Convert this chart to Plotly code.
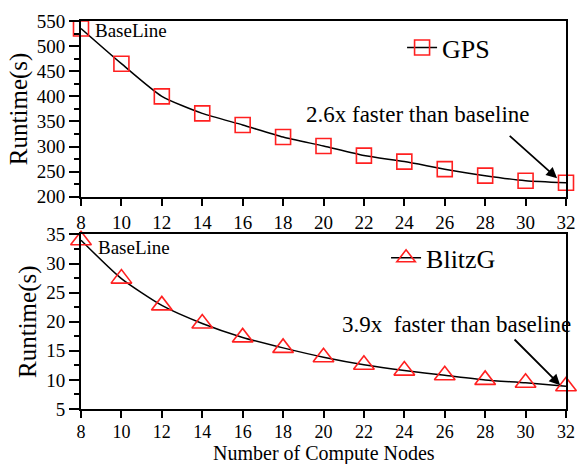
import plotly.graph_objects as go

nodes = [8, 10, 12, 14, 16, 18, 20, 22, 24, 26, 28, 30, 32]
gps_runtime = [535, 465, 400, 366, 343, 319, 301, 282, 270, 255, 242, 232, 228]
blitzg_runtime = [34.0, 27.4, 22.8, 19.7, 17.3, 15.5, 13.9, 12.6, 11.6, 10.8, 10.0, 9.5, 8.9]
x_ticks = list(range(8, 33, 2))
gps_y_ticks = list(range(200, 551, 50))
blitzg_y_ticks = list(range(5, 36, 5))

FONT = "Liberation Serif"
RED = "#ff2020"

fig = go.Figure()
fig.add_trace(go.Scatter(
    x=nodes, y=gps_runtime, name="GPS", mode="lines+markers",
    line=dict(color="black", width=1.5, shape="spline", smoothing=0.6),
    marker=dict(symbol="square-open", size=15, color=RED, line=dict(width=1.6, color=RED)),
    cliponaxis=False, xaxis="x", yaxis="y", legend="legend"))
fig.add_trace(go.Scatter(
    x=nodes, y=blitzg_runtime, name="BlitzG", mode="lines+markers",
    line=dict(color="black", width=1.5, shape="spline", smoothing=0.6),
    marker=dict(symbol="triangle-up-open", size=18, color=RED, line=dict(width=1.6, color=RED)),
    cliponaxis=False, xaxis="x2", yaxis="y2", legend="legend2"))

axis_common = dict(showline=True, linecolor="black", linewidth=2, mirror=True,
                   ticks="outside", tickcolor="black", tickwidth=2, showgrid=False,
                   zeroline=False)
tick_font = dict(family=FONT, size=19, color="black")

fig.update_layout(
    width=587, height=464,
    margin=dict(l=81, r=11, t=16, b=55),
    paper_bgcolor="white", plot_bgcolor="white",
    font=dict(family=FONT, color="black"),
    xaxis=dict(domain=[0, 1], anchor="y", range=[8, 32], tickvals=x_ticks, ticklen=7,
               tickfont=tick_font, **axis_common),
    yaxis=dict(domain=[0.547, 1], anchor="x", range=[200, 550], tickvals=gps_y_ticks, ticklen=10,
               tickfont=tick_font,
               minor=dict(dtick=25, ticks="outside", ticklen=5, tickcolor="black", tickwidth=1.5),
               title=dict(text="Runtime(s)", font=dict(family=FONT, size=25), standoff=2),
               **axis_common),
    xaxis2=dict(domain=[0, 1], anchor="y2", range=[8, 32], tickvals=x_ticks, ticklen=7,
                tickfont=dict(family=FONT, size=18, color="black"), ticklabelstandoff=-2,
                **axis_common),
    yaxis2=dict(domain=[0, 0.45], anchor="x2", range=[5, 35], tickvals=blitzg_y_ticks, ticklen=10,
                tickfont=tick_font,
                minor=dict(dtick=2.5, ticks="outside", ticklen=5, tickcolor="black", tickwidth=1.5),
                title=dict(text="Runtime(s)", font=dict(family=FONT, size=25), standoff=2),
                **axis_common),
    legend=dict(x=0.662, y=0.992, xanchor="left", yanchor="top", bgcolor="rgba(0,0,0,0)",
                font=dict(family=FONT, size=26, color="black")),
    legend2=dict(x=0.629, y=0.45, xanchor="left", yanchor="top", bgcolor="rgba(0,0,0,0)",
                 font=dict(family=FONT, size=26, color="black")),
    showlegend=True,
)

fig.add_annotation(x=0.5, y=-0.114, xref="paper", yref="paper", text="Number of Compute Nodes",
                   showarrow=False, xanchor="center", yanchor="middle",
                   font=dict(family=FONT, size=20, color="black"))

ann_font = dict(family=FONT, size=23, color="black")
fig.add_annotation(x=8.6, y=532, xref="x", yref="y", text="BaseLine", showarrow=False,
                   xanchor="left", yanchor="middle", font=dict(family=FONT, size=19, color="black"))
fig.add_annotation(x=8.73, y=32.8, xref="x2", yref="y2", text="BaseLine", showarrow=False,
                   xanchor="left", yanchor="middle", font=dict(family=FONT, size=19, color="black"))
fig.add_annotation(x=24.7, y=363, xref="x", yref="y", text="2.6x faster than baseline",
                   showarrow=False, font=ann_font)
fig.add_annotation(x=26.6, y=19.5, xref="x2", yref="y2", text="3.9x\u00a0 faster than baseline",
                   showarrow=False, font=ann_font)
fig.add_annotation(x=31.56, y=237, ax=29.14, ay=324, xref="x", yref="y", axref="x", ayref="y",
                   text="", showarrow=True, arrowhead=2, arrowsize=1.2, arrowwidth=1.8, arrowcolor="black")
fig.add_annotation(x=31.71, y=9.1, ax=29.38, ay=17.2, xref="x2", yref="y2", axref="x2", ayref="y2",
                   text="", showarrow=True, arrowhead=2, arrowsize=1.2, arrowwidth=1.8, arrowcolor="black")

fig.write_html("out.html", config={"displayModeBar": False},
               post_script="document.body.style.margin='0';document.body.style.overflow='hidden';")
